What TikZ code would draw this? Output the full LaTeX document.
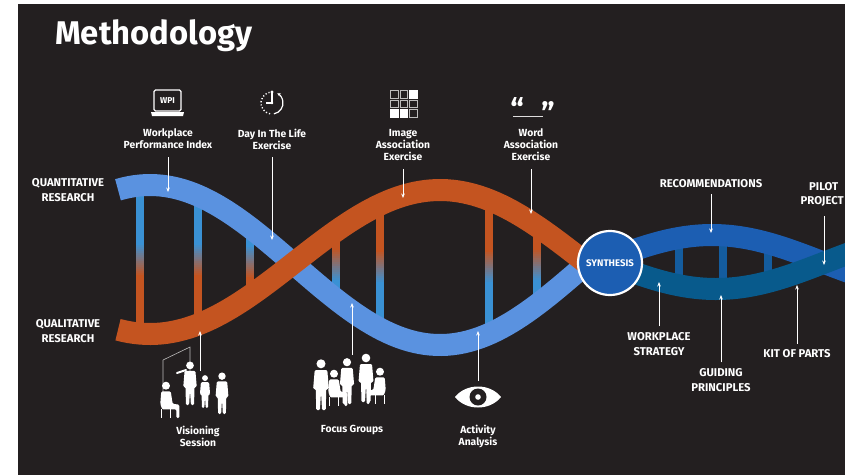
\documentclass[tikz,border=0pt]{standalone}
\usepackage{fontspec}
\setmainfont{Fira Sans}
\usepackage{tikz}
\usetikzlibrary{arrows.meta,calc}

\definecolor{board}{RGB}{35,31,32}
\definecolor{quant}{RGB}{90,146,224}
\definecolor{qual}{RGB}{196,84,32}
\definecolor{rung}{RGB}{58,145,212}
\definecolor{deepblue}{RGB}{28,94,178}
\definecolor{petrol}{RGB}{8,90,140}
\definecolor{rungdark}{RGB}{20,92,158}

\begin{document}
\begin{tikzpicture}
	[
	 x = 1pt, y = -1pt,
	 declare function = {qn(\x) = 265-80*cos((\x-150)/290*180);
	                     ql(\x) = 262+72*cos((\x-150)/290*180);
	                     db(\x) = 262-27*cos((\x-712)/220*180);
	                     pt(\x) = 262+27*cos((\x-716)/220*180);},
	 every node/.style = {text = white,
	                      align = center,
	                      inner sep = 0pt,
	                      font = \bfseries\fontsize{10.3}{12}\selectfont
	                     },
	 caps/.style   = {font = \bfseries\fontsize{11.3}{14.5}\selectfont},
	 ptr/.style    = {draw = white, line width = 0.7pt,
	                  -{Stealth[length=4.5pt, width=3.6pt]}},
	 strand/.style = {line width = 22pt, line cap = butt},
	 outline/.style = {draw = white!70!board, line width = 0.6pt}
	]

	% people, drawn from the floor point up
	\newcommand{\stander}[4]{%
		\begin{scope}[shift={(#1,#2)}, xscale=#4*#3, yscale=#3]
			\fill[white] (0,-44) circle (4.3);
			\fill[white, rounded corners=1.2] (-6,-38) -- (6,-38) -- (7.5,-20) -- (5,-20)
			     -- (4.5,0) -- (1,0) -- (0,-17) -- (-1,0) -- (-4.5,0) -- (-5,-20)
			     -- (-7.5,-20) -- cycle;
		\end{scope}}
	\newcommand{\sitter}[4]{%
		\begin{scope}[shift={(#1,#2)}, xscale=#4*#3, yscale=#3]
			\fill[white] (0,-34) circle (4.2);
			\fill[white, rounded corners=1.2] (-5,-28) -- (5,-28) -- (7,-15) -- (14,-14)
			     -- (14,0) -- (11,0) -- (11,-9) -- (-4,-9) -- (-6,-15) -- cycle;
			\draw[white, line width=0.8] (-5,-9) -- (-5,0) (5,-9) -- (5,0);
		\end{scope}}
	% a rung that fades from one strand colour into the other
	\newcommand{\rungbar}[5]{%
		\pgfmathsetmacro\ym{(#2+#3)/2}
		\fill[#4] (#1-4,#2) rectangle (#1+4,\ym-17);
		\foreach \k in {0,...,16} {
			\pgfmathtruncatemacro\pc{100-\k*100/16}
			\fill[#4!\pc!#5] (#1-4,\ym-17+2*\k) rectangle (#1+4,\ym-14.8+2*\k);
		}
		\fill[#5] (#1-4,\ym+17) rectangle (#1+4,#3);}

	\useasboundingbox (0,0) rectangle (845,475);
	\fill[white] (0,0) rectangle (845,475);
	\fill[board] (18,4) rectangle (845,475);

	\node[anchor=base west, font=\bfseries\fontsize{32.8}{33}\selectfont] (title) at (55,44) {Methodology};

	% rungs of the left helix
	\foreach \rx in {140,198,250} {
		\pgfmathsetmacro\ya{qn(\rx)}
		\pgfmathsetmacro\yb{ql(\rx)}
		\rungbar{\rx}{\ya}{\yb}{rung}{qual}
	}
	\foreach \rx in {336,380,489,537} {
		\pgfmathsetmacro\ya{ql(\rx)}
		\pgfmathsetmacro\yb{qn(\rx)}
		\rungbar{\rx}{\ya}{\yb}{qual}{rung}
	}
	% rungs of the right helix
	\foreach \rx in {679,723,768}
		\draw[rungdark, line width=8pt] (\rx,{db(\rx)}) -- (\rx,{pt(\rx)});

	\draw[strand, quant] plot[domain=118:598, samples=90] (\x,{qn(\x)});
	\draw[strand, qual]  plot[domain=118:598, samples=90] (\x,{ql(\x)});
	\draw[strand, deepblue] plot[domain=615:852, samples=60] (\x,{db(\x)});
	\draw[strand, petrol]   plot[domain=615:852, samples=60] (\x,{pt(\x)});

	\node[circle, draw=white, line width=2.2pt, fill=deepblue, minimum size=64pt,
	      font=\bfseries\fontsize{9.6}{10}\selectfont] (synth) at (610,263) {SYNTHESIS};

	% side labels
	\node[caps] (quantLbl) at (68,190) {QUANTITATIVE\\RESEARCH};
	\node[caps] (qualLbl)  at (68,331) {QUALITATIVE\\RESEARCH};

	% top labels and icons
	\node (wpiLbl)  at (168,139) {Workplace\\Performance Index};
	\node (dayLbl)  at (272,139) {Day In The Life\\Exercise};
	\node (imgLbl)  at (403,145) {Image\\Association\\Exercise};
	\node (wordLbl) at (531,145) {Word\\Association\\Exercise};

	\draw[white, line width=1.3pt, rounded corners=1.5pt] (154,90) rectangle (181,111);
	\fill[white] (151,112) -- (184,112) -- (183,116) -- (152,116) -- cycle;
	\node[font=\bfseries\fontsize{8.5}{8}\selectfont] (wpiIcon) at (167.5,100.5) {WPI};

	\draw[white, line width=1.4pt, dash pattern=on 1.2pt off 2pt] (272,103) ++(100:11) arc (100:270:11);
	\draw[white, line width=1.2pt, -{Stealth[length=3.5pt, width=3.5pt]}] (272,103) ++(80:11) arc (80:-62:11);
	\draw[white, line width=1.3pt] (272,92) -- (272,103) -- (266,103);
	\fill[white] (272,92) circle (1.6) (272,103) circle (1.4);

	\foreach \row/\col in {0/0,0/1,1/0,1/1,1/2,2/2}
		\draw[outline, line width=0.8pt] (390.5+9.5*\col,90.5+9.5*\row) rectangle ++(7.5,7.5);
	\foreach \row/\col in {0/2,2/0,2/1}
		\fill[white] (390+9.5*\col,90+9.5*\row) rectangle ++(8.5,8.5);

	\node[font=\bfseries\fontsize{30}{30}\selectfont] (openQ)  at (517,109) {“};
	\node[font=\bfseries\fontsize{30}{30}\selectfont] (closeQ) at (548,113) {”};
	\draw[white!85!board, line width=1pt] (513,116) -- (543,116);

	\coordinate (wpiTip)  at (168,192);
	\coordinate (dayTip)  at (272,240);
	\coordinate (imgTip)  at (403,198);
	\coordinate (wordTip) at (531,214);
	\draw[ptr, shorten <=8pt] (wpiLbl.south)  -- (wpiTip);
	\draw[ptr, shorten <=8pt] (dayLbl.south)  -- (dayTip);
	\draw[ptr, shorten <=8pt] (imgLbl.south)  -- (imgTip);
	\draw[ptr, shorten <=8pt] (wordLbl.south) -- (wordTip);

	% bottom labels and figures
	\node (visLbl)   at (198,436) {Visioning\\Session};
	\node (focusLbl) at (352,430) {Focus Groups};
	\node (actLbl)   at (478,436) {Activity\\Analysis};

	\draw[outline] (163,360) -- (190,347) -- (190,396) (163,360) -- (163,403);
	\sitter{166}{418}{0.95}{1}
	\stander{190}{405}{0.9}{1}
	\draw[white, line width=2pt, line cap=round] (186,370) -- (177,373);
	\stander{205}{408}{0.68}{1}
	\stander{222}{414}{0.86}{-1}

	\stander{321}{410}{1.05}{1}
	\sitter{334}{406}{0.95}{1}
	\stander{347}{404}{0.95}{1}
	\stander{366}{402}{1.0}{-1}
	\sitter{380}{404}{0.95}{-1}

	\fill[white] (455,397) .. controls (466,383) and (490,383) .. (501,397)
	             .. controls (490,411) and (466,411) .. (455,397);
	\fill[board] (478,397) circle (8.5);
	\fill[white] (478,397) circle (2.8);

	\coordinate (visFoot)   at (200,371);
	\coordinate (visTip)    at (200,331);
	\coordinate (focusFoot) at (352,355);
	\coordinate (focusTip)  at (352,303);
	\coordinate (actFoot)   at (478,381);
	\coordinate (actTip)    at (478,331);
	\draw[ptr] (visFoot)   -- (visTip);
	\draw[ptr] (focusFoot) -- (focusTip);
	\draw[ptr] (actFoot)   -- (actTip);

	% outcome labels
	\node[caps] (recLbl)   at (711,184) {RECOMMENDATIONS};
	\node[caps, align=left, anchor=north west] (pilotLbl) at (800.5,182) {\hspace*{8.5pt}PILOT\\PROJECT};
	\node[caps] (wsLbl)    at (659,344) {WORKPLACE\\STRATEGY};
	\node[caps] (gpLbl)    at (721,380) {GUIDING\\PRINCIPLES};
	\node[caps] (kitLbl)   at (797,354) {KIT OF PARTS};

	\coordinate (recTip)   at (711,233);
	\coordinate (pilotFoot) at (824,216);
	\coordinate (pilotTip) at (824,265);
	\coordinate (wsTip)    at (659,282);
	\coordinate (gpTip)    at (721,295);
	\coordinate (kitTip)   at (797,285);
	\draw[ptr, shorten <=6pt] (recLbl.south)   -- (recTip);
	\draw[ptr] (pilotFoot) -- (pilotTip);
	\draw[ptr, shorten <=6pt] (wsLbl.north)    -- (wsTip);
	\draw[ptr, shorten <=6pt] (gpLbl.north)    -- (gpTip);
	\draw[ptr, shorten <=6pt] (kitLbl.north)   -- (kitTip);
\end{tikzpicture}
\end{document}
